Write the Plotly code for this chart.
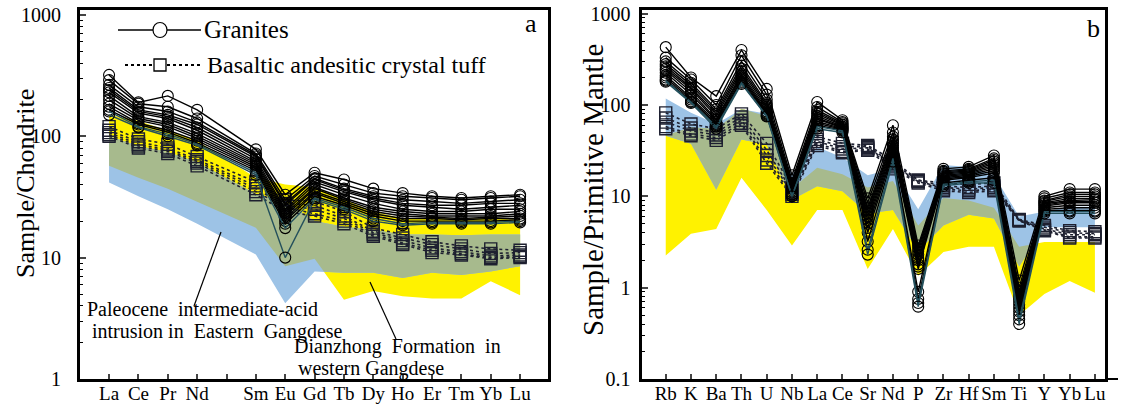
import math
import plotly.graph_objects as go

# ---------------------------------------------------------------- data
REE_ELEMENTS = ["La", "Ce", "Pr", "Nd", "Sm", "Eu", "Gd", "Tb", "Dy", "Ho", "Er", "Tm", "Yb", "Lu"]
REE_POSITIONS = [0, 1, 2, 3, 5, 6, 7, 8, 9, 10, 11, 12, 13, 14]
REE_TICK_LABELS = ["La", "Ce", "Pr", "Nd", "", "Sm", "Eu", "Gd", "Tb", "Dy", "Ho", "Er", "Tm", "Yb", "Lu"]

SPIDER_ELEMENTS = ["Rb", "K", "Ba", "Th", "U", "Nb", "La", "Ce", "Sr", "Nd",
                   "P", "Zr", "Hf", "Sm", "Ti", "Y", "Yb", "Lu"]

# chondrite-normalised REE, granites
ree_granites = [
    [320, 190, 215, 165, 78, 33, 50, 44, 37, 34, 32, 31, 32, 33],
    [290, 185, 175, 140, 72, 30, 47, 40, 34, 32, 31, 30, 31, 32],
    [265, 175, 160, 130, 70, 28, 45, 37, 32, 30, 29, 28, 29, 30],
    [250, 165, 150, 125, 68, 27, 44, 36, 31, 28, 27, 27, 28, 28],
    [240, 160, 145, 118, 65, 25, 42, 35, 30, 27, 26, 25, 26, 27],
    [230, 155, 140, 112, 62, 24, 40, 33, 28, 25, 24, 24, 25, 25],
    [215, 145, 130, 105, 60, 23, 38, 31, 26, 24, 23, 23, 23, 24],
    [200, 140, 125, 100, 58, 22, 37, 30, 25, 23, 22, 22, 22, 23],
    [185, 135, 120, 96, 56, 21, 35, 29, 24, 22, 21.5, 21, 21.5, 22],
    [175, 128, 112, 92, 54, 20, 34, 28, 23, 21, 21, 20.5, 21, 21],
    [165, 125, 108, 88, 52, 19, 32, 27, 22, 20, 20, 20, 20, 20.5],
    [160, 120, 104, 86, 50, 17.5, 31, 26, 21, 19, 19.5, 19.5, 19.5, 20],
    [150, 118, 100, 84, 48, 10, 30, 25, 20, 18.5, 19, 19, 19, 19.5],
]
# chondrite-normalised REE, basaltic andesitic crystal tuff
ree_tuff = [
    [120, 95, 86, 68, 42, 30, 29, 24, 17.5, 15.5, 13.5, 12.5, 11.8, 11.5],
    [112, 90, 80, 64, 39, 28, 27, 22, 16.5, 14.5, 12.8, 11.8, 10.8, 11],
    [107, 86, 77, 62, 37, 27, 25, 21, 16, 13.8, 12, 11.2, 10.3, 10.5],
    [103, 83, 75, 60, 35, 26, 23, 20, 15.5, 13.2, 11.5, 10.8, 10, 10.2],
    [100, 80, 72, 57, 33, 24, 22, 19, 15, 12.8, 11, 10.5, 9.8, 10],
]
# reference fields (REE)
ree_eastern_upper = [100, 83, 74, 61, 33.4, 29, 20, 18, 17, 15.5, 15.5, 15.3, 15.5, 15.5]
ree_eastern_lower = [41.5, 32, 25, 19, 10.6, 4.2, 7.7, 7.5, 7.5, 6.8, 7.5, 7.2, 7.7, 8.5]
ree_dianzhong_upper = [150, 134, 111, 92, 45.6, 40, 38, 30, 24, 21, 21, 21, 21, 20.5]
ree_dianzhong_lower = [57, 45.6, 37, 29, 17.6, 8.5, 9.8, 4.5, 5.3, 4.8, 4.6, 4.6, 6.4, 4.9]

# primitive-mantle-normalised trace elements, granites
spider_granites = [
    [430, 200, 125, 400, 150, 17, 108, 68, 9.5, 60, 2.9, 20, 21, 28, 1.2, 10, 12, 12],
    [330, 190, 100, 350, 130, 15, 95, 65, 8.5, 50, 2.7, 19, 20, 26, 1.0, 9.5, 11, 11],
    [300, 175, 90, 300, 115, 14, 88, 63, 7.5, 45, 2.5, 18.5, 19.5, 25, 0.9, 9, 10.5, 10.5],
    [280, 165, 85, 270, 105, 13.5, 84, 61, 7, 42, 2.3, 18, 19, 24, 0.85, 8.8, 10, 10],
    [265, 155, 80, 250, 100, 13, 80, 60, 6.5, 40, 2.1, 17.5, 18.5, 23, 0.8, 8.5, 9.5, 9.5],
    [250, 150, 75, 235, 95, 12.5, 76, 58, 6, 38, 2.0, 17, 18, 22, 0.75, 8.3, 9, 9.2],
    [240, 140, 70, 220, 90, 12, 72, 57, 5.5, 36, 1.8, 16.5, 17.5, 21, 0.7, 8, 8.8, 8.8],
    [225, 130, 68, 210, 85, 11.5, 70, 56, 5, 34, 1.7, 16, 17, 20, 0.65, 7.8, 8.5, 8.5],
    [210, 120, 65, 200, 82, 11, 66, 55, 4.5, 32, 1.6, 15.5, 16.5, 19, 0.6, 7.5, 8, 8],
    [200, 115, 62, 190, 80, 10.5, 63, 54, 4, 30, 0.9, 15, 16, 18, 0.55, 7.2, 7.5, 7.5],
    [190, 110, 60, 180, 78, 10.5, 60, 53, 3.2, 28, 0.75, 14, 15, 16, 0.5, 7, 7, 7],
    [185, 108, 58, 175, 76, 10, 58, 52, 2.6, 26, 0.68, 13.5, 14.5, 15, 0.45, 6.8, 6.8, 6.8],
    [180, 105, 55, 170, 75, 10, 55, 50, 2.3, 24, 0.62, 13, 14, 14, 0.4, 6.5, 6.5, 6.5],
]
# primitive-mantle-normalised trace elements, tuff
spider_tuff = [
    [82, 62, 55, 80, 38, 12.5, 45, 38, 36, 25, 15, 14, 13.5, 14, 5.6, 4.8, 4.2, 4.1],
    [72, 56, 50, 74, 32, 11.5, 42, 35, 35, 23, 15, 13, 12.5, 13, 5.5, 4.6, 4.0, 3.9],
    [65, 52, 47, 68, 28, 11, 40, 33, 34, 22, 14.5, 12.5, 12, 12.5, 5.5, 4.4, 3.8, 3.8],
    [58, 48, 44, 63, 25, 10.5, 38, 31, 33, 21, 14.5, 12, 11.5, 12, 5.4, 4.3, 3.6, 3.6],
    [55, 46, 41, 60, 23, 10, 36, 30, 32, 20, 14, 11.5, 11, 11.5, 5.4, 4.2, 3.5, 3.5],
]
# reference fields (spider diagram)
spider_eastern_upper = [118, 82, 62, 90, 80, 17.4, 34.6, 26.6, 17, 20, 7.2, 22, 21, 17, 6, 6.8, 7.7, 7.7]
spider_eastern_lower = [46, 37.6, 11.8, 42, 37, 9.2, 12.9, 11.4, 6.5, 7.1, 2.5, 4.8, 6.3, 5.7, 1.7, 4.6, 4.6, 4.6]
spider_dianzhong_upper = [46.5, 57, 55, 91, 75, 12.2, 20.6, 17.4, 12.5, 14.7, 4.8, 9.6, 9, 7.5, 2.8, 3.16, 3.16, 3.16]
spider_dianzhong_lower = [2.25, 3.9, 4.4, 16, 7.1, 2.9, 7.1, 7.1, 1.6, 4.4, 1.35, 2.45, 2.8, 2.8, 0.5, 0.85, 1.18, 0.88]

# ---------------------------------------------------------------- styling
W, H = 1123, 410
SERIF = "Liberation Serif"
YELLOW = "#fff200"
BLUE = "#9dc3e6"
OVERLAP = "#a7ba8d"
TEAL = "#24505c"
TEAL_SAMPLES = {11, 12}


def px(x):
    return x / W


def py(y):
    return 1 - y / H


def band(xs, upper, lower):
    return list(xs) + list(xs)[::-1], list(upper) + list(lower)[::-1]


def band_overlap(xs, u1, l1, u2, l2):
    """Intersection of two bands, piecewise linear in log space."""
    curves = [[math.log10(v) for v in c] for c in (u1, l1, u2, l2)]
    U1, L1, U2, L2 = curves

    def at(c, i, t):
        return c[i] + (c[i + 1] - c[i]) * t

    pts = []
    n = len(xs)
    for i in range(n - 1):
        ts = {0.0}
        for a in range(4):
            for b in range(a + 1, 4):
                da = curves[a][i] - curves[b][i]
                db = curves[a][i + 1] - curves[b][i + 1]
                if da * db < 0:
                    ts.add(da / (da - db))
        if i == n - 2:
            ts.add(1.0)
        for t in sorted(ts):
            x = xs[i] + (xs[i + 1] - xs[i]) * t
            top = min(at(U1, i, t), at(U2, i, t))
            bot = max(at(L1, i, t), at(L2, i, t))
            pts.append((x, top, bot))

    runs, cur = [], []
    for p in pts:
        if p[1] >= p[2] - 1e-9:
            cur.append(p)
        else:
            if len(cur) > 1:
                runs.append(cur)
            cur = []
    if len(cur) > 1:
        runs.append(cur)

    X, Y = [], []
    for r in runs:
        X += [p[0] for p in r] + [p[0] for p in r[::-1]] + [None]
        Y += [10 ** p[1] for p in r] + [10 ** p[2] for p in r[::-1]] + [None]
    return X, Y


fig = go.Figure()


def add_fields(xs, e_up, e_lo, d_up, d_lo, xa, ya):
    for (up, lo), col in (((d_up, d_lo), YELLOW), ((e_up, e_lo), BLUE)):
        bx, by = band(xs, up, lo)
        fig.add_trace(go.Scatter(x=bx, y=by, mode="lines", fill="toself", fillcolor=col,
                                 line=dict(width=0, color=col), hoverinfo="skip",
                                 showlegend=False, xaxis=xa, yaxis=ya))
    ox, oy = band_overlap(xs, e_up, e_lo, d_up, d_lo)
    fig.add_trace(go.Scatter(x=ox, y=oy, mode="lines", fill="toself", fillcolor=OVERLAP,
                             line=dict(width=0, color=OVERLAP), hoverinfo="skip",
                             showlegend=False, xaxis=xa, yaxis=ya, connectgaps=False))


def add_samples(xs, tuff, granites, xa, ya):
    for s in tuff:
        fig.add_trace(go.Scatter(
            x=xs, y=s, mode="lines+markers",
            line=dict(color="#1e2030", width=1.6, dash="dot"),
            marker=dict(symbol="square-open", size=12, color="#1e2030", line=dict(width=1.4)),
            showlegend=False, xaxis=xa, yaxis=ya))
    for k, s in enumerate(granites):
        col = TEAL if k in TEAL_SAMPLES else "black"
        fig.add_trace(go.Scatter(
            x=xs, y=s, mode="lines+markers",
            line=dict(color=col, width=1.4),
            marker=dict(symbol="circle-open", size=11, color="black", line=dict(width=1.1)),
            showlegend=False, xaxis=xa, yaxis=ya))


spider_x = list(range(len(SPIDER_ELEMENTS)))

add_fields(REE_POSITIONS, ree_eastern_upper, ree_eastern_lower,
           ree_dianzhong_upper, ree_dianzhong_lower, "x", "y")
add_samples(REE_POSITIONS, ree_tuff, ree_granites, "x", "y")

add_fields(spider_x, spider_eastern_upper, spider_eastern_lower,
           spider_dianzhong_upper, spider_dianzhong_lower, "x2", "y2")
add_samples(spider_x, spider_tuff, spider_granites, "x2", "y2")


def minor_vals(lo_exp, hi_exp):
    return [m * 10 ** e for e in range(lo_exp, hi_exp) for m in range(2, 10)]


axis_common = dict(showline=True, linewidth=3, linecolor="black", mirror=True,
                   showgrid=False, zeroline=False, automargin=False)
xfont = dict(family=SERIF, size=19, color="black")
yfont = dict(family=SERIF, size=20, color="black")

fig.update_layout(
    width=W, height=H,
    margin=dict(l=0, r=0, t=0, b=0),
    paper_bgcolor="white", plot_bgcolor="white",
    showlegend=False,
    xaxis=dict(domain=[px(80), px(548)], range=[-0.99, 14.95],
               tickmode="array", tickvals=list(range(15)), ticktext=REE_TICK_LABELS,
               tickangle=0, tickfont=xfont,
               ticks="inside", ticklen=5, tickwidth=1.5, ticklabelstandoff=-5, **axis_common),
    yaxis=dict(domain=[py(379), py(10)], type="log", range=[0, 3.04],
               tickmode="array", tickvals=[1, 10, 100, 1000], ticktext=["1", "10", "100", "1000"],
               tickfont=yfont,
               ticks="inside", ticklen=6, tickwidth=2, ticklabelstandoff=12,
               minor=dict(tickmode="array", tickvals=minor_vals(0, 3), ticks="inside",
                          ticklen=3, tickwidth=1.2, tickcolor="black"),
               **axis_common),
    xaxis2=dict(domain=[px(641.5), px(1105)], range=[-0.96, 17.4], anchor="y2",
                tickmode="array", tickvals=spider_x, ticktext=SPIDER_ELEMENTS,
                tickangle=0, tickfont=xfont,
                ticks="inside", ticklen=5, tickwidth=1.5, ticklabelstandoff=-5, **axis_common),
    yaxis2=dict(domain=[py(379), py(10)], type="log", range=[-1, 3.04], anchor="x2",
                tickmode="array", tickvals=[0.1, 1, 10, 100, 1000],
                ticktext=["0.1", "1", "10", "100", "1000"],
                tickfont=yfont,
                ticks="inside", ticklen=6, tickwidth=2, ticklabelstandoff=4,
                minor=dict(tickmode="array", tickvals=minor_vals(-1, 3), ticks="inside",
                           ticklen=3, tickwidth=1.2, tickcolor="black"),
                **axis_common),
)

# ---------------------------------------------------------------- legend + labels
shapes = [
    dict(type="line", xref="paper", yref="paper", x0=px(118), x1=px(201), y0=py(30), y1=py(30),
         line=dict(color="black", width=1.3)),
    dict(type="circle", xref="paper", yref="paper", xsizemode="pixel", ysizemode="pixel",
         xanchor=px(160), yanchor=py(30), x0=-7, x1=7, y0=-7.5, y1=7.5,
         fillcolor="white", line=dict(color="black", width=1.2)),
    dict(type="line", xref="paper", yref="paper", x0=px(125), x1=px(203), y0=py(65), y1=py(65),
         line=dict(color="black", width=1.8, dash="dot")),
    dict(type="rect", xref="paper", yref="paper", xsizemode="pixel", ysizemode="pixel",
         xanchor=px(160), yanchor=py(65), x0=-6, x1=6, y0=-6, y1=6,
         fillcolor="white", line=dict(color="black", width=1.3)),
    # leader lines to the reference fields
    dict(type="line", xref="paper", yref="paper", x0=px(194), y0=py(306), x1=px(221), y1=py(232),
         line=dict(color="black", width=1.2)),
    dict(type="line", xref="paper", yref="paper", x0=px(370), y0=py(282), x1=px(396), y1=py(339),
         line=dict(color="black", width=1.2)),
    # short overrun of the right-hand panel's base line
    dict(type="line", xref="paper", yref="paper", x0=px(1105), x1=px(1118), y0=py(379), y1=py(379),
         line=dict(color="black", width=2)),
]
fig.update_layout(shapes=shapes)


def label(text, x, y, size, xanchor="left", angle=0):
    fig.add_annotation(text=text, xref="paper", yref="paper", x=px(x), y=py(y),
                       xanchor=xanchor, yanchor="middle", showarrow=False, textangle=angle,
                       font=dict(family=SERIF, size=size, color="black"))


label("Granites", 202, 30, 25)
label("Basaltic andesitic crystal tuff", 205, 65, 24)
label("a", 531, 23, 26, xanchor="center")
label("b", 1093, 28, 26, xanchor="center")
label("Paleocene&nbsp; intermediate-acid", 85, 309, 20)
label("intrusion in&nbsp; Eastern&nbsp; Gangdese", 90, 331, 20)
label("Dianzhong&nbsp; Formation&nbsp; in", 292, 346, 20)
label("western Gangdese", 296, 368, 20)
label("Sample/Chondrite", 26, 184, 26, xanchor="center", angle=-90)
label("Sample/Primitive Mantle", 593, 190, 29, xanchor="center", angle=-90)

fig.write_html("out.html", include_plotlyjs=True, config={"displayModeBar": False})
